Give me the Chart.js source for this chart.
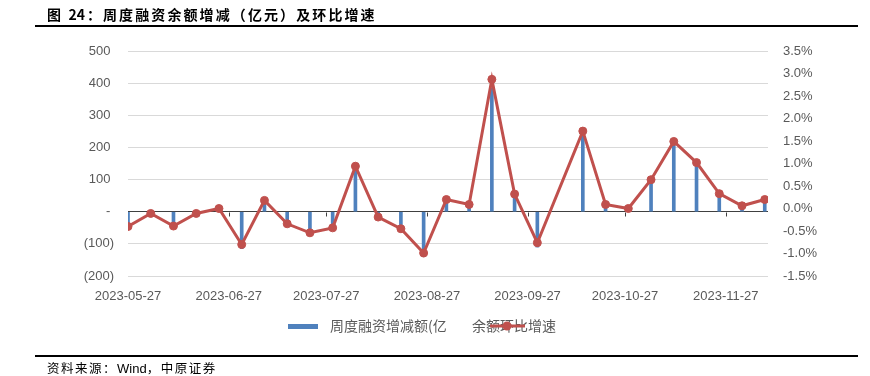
<!DOCTYPE html>
<html>
<head>
<meta charset="utf-8">
<script src="https://cdn.jsdelivr.net/npm/chart.js@4.4.1/dist/chart.umd.min.js"></script>
<style>
    html, body { margin: 0; padding: 0; background: #fff; }
    .page { position: relative; width: 870px; height: 376px; overflow: hidden; }
    #chart { position: absolute; left: 0; top: 0; }
    .title {
        position: absolute; left: 47px; top: 4px; line-height: 16px;
        font: bold 14px "Noto Sans CJK SC", sans-serif; letter-spacing: 2.1px; color: #000;
    }
    .title .num { letter-spacing: 0; margin-right: 2px; }
    .rule { position: absolute; left: 35px; width: 823px; background: #000; }
    .source {
        position: absolute; left: 47px; top: 358px; line-height: 14px;
        font: 12.5px "Noto Sans CJK SC", sans-serif; letter-spacing: 1.5px; color: #000;
    }
    .source .latin { font-family: "Liberation Sans", Arial, sans-serif; letter-spacing: 0; font-size: 13px; }
</style>
</head>
<body>
<div class="page">
    <canvas id="chart" width="870" height="376"></canvas>
    <div class="title">图 <span class="num">24</span>：周度融资余额增减（亿元）及环比增速</div>
    <div class="rule" style="top:25px;height:2px"></div>
    <div class="rule" style="top:355px;height:2px"></div>
    <div class="source">资料来源：<span class="latin">Wind</span>，中原证券</div>
</div>
<script>
// Weekly dates (the National Day week 2023-10-07 has no data)
const weekDates = [
    '2023-05-27', '2023-06-03', '2023-06-10', '2023-06-17', '2023-06-24',
    '2023-07-01', '2023-07-08', '2023-07-15', '2023-07-22', '2023-07-29',
    '2023-08-05', '2023-08-12', '2023-08-19', '2023-08-26', '2023-09-02',
    '2023-09-09', '2023-09-16', '2023-09-23', '2023-09-30', '2023-10-14',
    '2023-10-21', '2023-10-28', '2023-11-04', '2023-11-11', '2023-11-18',
    '2023-11-25', '2023-12-02', '2023-12-09'
];
// 周度融资增减额 (亿元)
const balanceChange = [
    -40, -8, -40, -8, 8, -115, 30, -30, -60, -48,
    140, -15, -55, -140, 38, 15, 385, 50, -110, 245,
    12, 3, 95, 215, 148, 52, 12, 32
];
// 余额环比增速 (%)
const growthPct = [
    -0.40, -0.11, -0.39, -0.11, 0.00, -0.80, 0.18, -0.34, -0.54, -0.43,
    0.94, -0.19, -0.45, -0.99, 0.20, 0.09, 2.87, 0.32, -0.76, 1.72,
    0.09, 0.00, 0.64, 1.49, 1.02, 0.33, 0.06, 0.20
];
// Monthly tick labels on the date axis
const tickLabels = [
    '2023-05-27', '2023-06-27', '2023-07-27', '2023-08-27',
    '2023-09-27', '2023-10-27', '2023-11-27'
];

const DAY = 86400000;
const start = Date.parse(weekDates[0]);
function dayOffset(d) {
    return (Date.parse(d) - start) / DAY;
}

const barPoints = weekDates.map((d, i) => ({ x: dayOffset(d), y: balanceChange[i] }));
const linePoints = weekDates.map((d, i) => ({ x: dayOffset(d), y: growthPct[i] }));

const labelColor = '#595959';
const labelFont = { family: '"Liberation Sans", Arial, sans-serif', size: 13 };

// small tick marks hanging under the zero line at each month label
const zeroTicks = {
    id: 'zeroTicks',
    beforeDatasetsDraw(chart) {
        const { ctx, scales: { x, y } } = chart;
        const y0 = Math.round(y.getPixelForValue(0)) + 0.5;
        ctx.save();
        ctx.strokeStyle = '#404040';
        ctx.lineWidth = 1;
        x.ticks.forEach(t => {
            const px = Math.round(x.getPixelForValue(t.value)) + 0.5;
            ctx.beginPath();
            ctx.moveTo(px, y0);
            ctx.lineTo(px, y0 + 4);
            ctx.stroke();
        });
        ctx.restore();
    }
};

// legend drawn like the original (line symbol sits over the second label)
const sheetLegend = {
    id: 'sheetLegend',
    afterDraw(chart) {
        const ctx = chart.ctx;
        const yMid = 326;
        ctx.save();
        ctx.fillStyle = '#4f81bd';
        ctx.fillRect(288, yMid - 2, 30, 5);
        ctx.font = '14px "Noto Sans CJK SC", sans-serif';
        ctx.fillStyle = labelColor;
        ctx.textBaseline = 'middle';
        ctx.fillText(chart.data.datasets[1].label, 330, yMid);
        ctx.fillText(chart.data.datasets[0].label, 472, yMid);
        ctx.strokeStyle = '#c0504d';
        ctx.lineWidth = 3;
        ctx.beginPath();
        ctx.moveTo(490, yMid);
        ctx.lineTo(525, yMid);
        ctx.stroke();
        ctx.fillStyle = '#c0504d';
        ctx.beginPath();
        ctx.arc(507, yMid, 4.5, 0, Math.PI * 2);
        ctx.fill();
        ctx.restore();
    }
};

new Chart(document.getElementById('chart'), {
    data: {
        datasets: [{
            type: 'line',
            label: '余额环比增速',
            data: linePoints,
            yAxisID: 'y1',
            borderColor: '#c0504d',
            backgroundColor: '#c0504d',
            borderWidth: 3,
            pointRadius: 4,
            pointBorderWidth: 1,
            pointBackgroundColor: '#c0504d',
            pointBorderColor: '#c0504d',
            tension: 0,
            order: 0
        }, {
            type: 'bar',
            label: '周度融资增减额(亿',
            data: barPoints,
            yAxisID: 'y',
            backgroundColor: '#4f81bd',
            barThickness: 3,
            order: 1
        }]
    },
    options: {
        responsive: false,
        animation: false,
        devicePixelRatio: 1,
        layout: { padding: { top: 51, left: 0, right: 0, bottom: 0 } },
        plugins: {
            legend: { display: false },
            tooltip: { enabled: false }
        },
        scales: {
            x: {
                type: 'linear',
                offset: false,
                min: 0,
                max: 197,
                grid: { display: false, offset: false },
                border: { display: false },
                afterBuildTicks(scale) {
                    scale.ticks = tickLabels.map(d => ({ value: dayOffset(d) }));
                },
                afterFit(scale) { scale.height = 100; },
                ticks: {
                    autoSkip: false,
                    maxRotation: 0,
                    padding: 5,
                    color: labelColor,
                    font: labelFont,
                    callback: (v, i) => tickLabels[i]
                }
            },
            y: {
                position: 'left',
                min: -200,
                max: 500,
                border: { display: false },
                grid: {
                    drawTicks: false,
                    color: ctx => ctx.tick.value === 0 ? '#404040' : '#d9d9d9'
                },
                afterFit(scale) { scale.width = 128; },
                ticks: {
                    stepSize: 100,
                    padding: 14,
                    color: labelColor,
                    font: labelFont,
                    callback: v => v === 0 ? '- ' : (v < 0 ? '(' + (-v) + ')' : v + ' ')
                }
            },
            y1: {
                position: 'right',
                min: -1.5,
                max: 3.5,
                border: { display: false },
                grid: { drawOnChartArea: false, drawTicks: false },
                afterFit(scale) { scale.width = 102; },
                ticks: {
                    stepSize: 0.5,
                    padding: 15,
                    color: labelColor,
                    font: labelFont,
                    callback: v => v.toFixed(1) + '%'
                }
            }
        }
    },
    plugins: [zeroTicks, sheetLegend]
});
</script>
</body>
</html>
